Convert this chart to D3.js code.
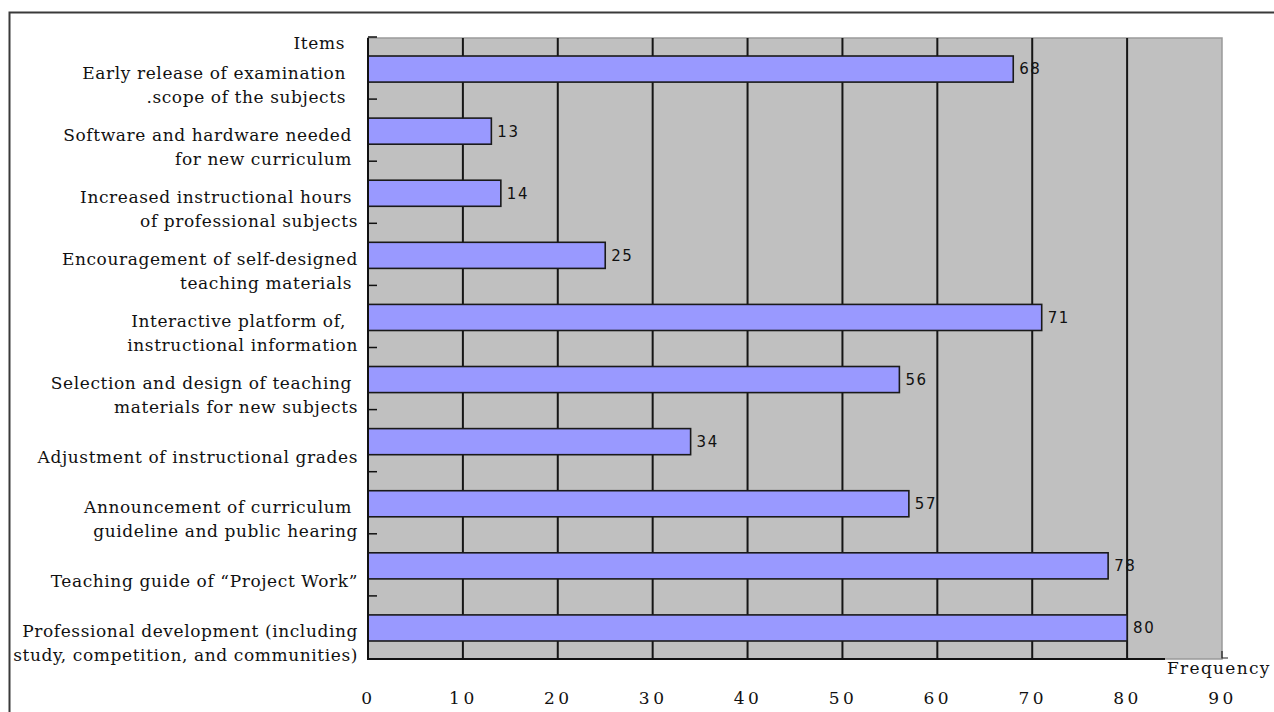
<!DOCTYPE html>
<html>
<head>
<meta charset="utf-8">
<script src="https://cdn.jsdelivr.net/npm/d3@7"></script>
<style>
  body { margin: 0; background: #fff; }
  svg { display: block; }
  .cat { font-family: "DejaVu Serif", serif; font-size: 17px; letter-spacing: 0.6px; fill: #111; white-space: pre; }
  .val { font-family: "DejaVu Sans", sans-serif; font-size: 15px; letter-spacing: 1.5px; fill: #111; }
  .tick text { font-family: "DejaVu Serif", serif; font-size: 17px; letter-spacing: 3.5px; fill: #111; }
</style>
</head>
<body>
<svg id="chart" width="1274" height="712"></svg>
<script>
// Survey items (top to bottom); line breaks mark where each label wraps
const categories = [
  "Early release of examination  \n.scope of the subjects  ",
  "Software and hardware needed \nfor new curriculum ",
  "Increased instructional hours \nof professional subjects",
  "Encouragement of self-designed\nteaching materials ",
  "Interactive platform of,  \ninstructional information",
  "Selection and design of teaching \nmaterials for new subjects",
  "Adjustment of instructional grades",
  "Announcement of curriculum \nguideline and public hearing",
  "Teaching guide of \u201cProject Work\u201d",
  "Professional development (including\nstudy, competition, and communities)"
];
const frequencies = [68, 13, 14, 25, 71, 56, 34, 57, 78, 80];
const xTicks = [0, 10, 20, 30, 40, 50, 60, 70, 80, 90];
const axisTitleY = "Items";
const axisTitleX = "Frequency";

const svg = d3.select("#chart");
const plot = { left: 368, top: 38, right: 1222, bottom: 659 };

const x = d3.scaleLinear().domain([0, 90]).range([plot.left, plot.right]);
const y = d3.scaleBand().domain(categories).range([plot.top, plot.bottom])
  .paddingInner(0.58).paddingOuter(0.29);

// Outer frame (open at right and bottom)
svg.append("path")
  .attr("d", `M9.5,712 V12.5 H1274`)
  .attr("fill", "none").attr("stroke", "#3a3a3a").attr("stroke-width", 2);

// Plot background
svg.append("rect")
  .attr("x", x(0)).attr("y", plot.top)
  .attr("width", x(90) - x(0)).attr("height", plot.bottom - plot.top)
  .attr("fill", "#c0c0c0").attr("stroke", "#9a9a9a").attr("stroke-width", 1.5);

// Vertical gridlines
svg.append("g").selectAll("line")
  .data(xTicks.filter(d => d > 0 && d < 90))
  .join("line")
  .attr("x1", d => x(d)).attr("x2", d => x(d))
  .attr("y1", plot.top).attr("y2", plot.bottom)
  .attr("stroke", "#151515").attr("stroke-width", 2);

// Bars
svg.append("g").selectAll("rect")
  .data(categories.map((c, i) => ({ c, v: frequencies[i] })))
  .join("rect")
  .attr("x", x(0))
  .attr("y", d => y(d.c))
  .attr("width", d => x(d.v) - x(0))
  .attr("height", y.bandwidth())
  .attr("fill", "#9999ff")
  .attr("stroke", "#1a1a1a").attr("stroke-width", 1.6);

// Value labels
svg.append("g").selectAll("text")
  .data(categories.map((c, i) => ({ c, v: frequencies[i] })))
  .join("text")
  .attr("class", "val")
  .attr("x", d => x(d.v) + 6)
  .attr("y", d => y(d.c) + y.bandwidth() / 2)
  .attr("dy", "0.36em")
  .text(d => d.v);

// Left axis line and inward ticks at category boundaries
const step = y.step();
const boundaries = d3.range(categories.length + 1).map(i => plot.top + i * step);
svg.append("line")
  .attr("x1", x(0)).attr("x2", x(0))
  .attr("y1", plot.top).attr("y2", plot.bottom)
  .attr("stroke", "#111").attr("stroke-width", 2);
svg.append("g").selectAll("line")
  .data(boundaries.slice(0, -1))
  .join("line")
  .attr("x1", x(0)).attr("x2", x(0) + 9)
  .attr("y1", d => d - 1).attr("y2", d => d - 1)
  .attr("stroke", "#111").attr("stroke-width", 1.5);

// Bottom axis line running up to the axis title
const freqX = 1167;
svg.append("line")
  .attr("x1", x(0) - 1).attr("x2", freqX - 2)
  .attr("y1", plot.bottom).attr("y2", plot.bottom)
  .attr("stroke", "#111").attr("stroke-width", 2);

// Corner mark at the right end of the plot area
svg.append("path")
  .attr("d", `M${x(90)},${plot.bottom - 8} V${plot.bottom - 1} H${x(90) + 6}`)
  .attr("fill", "none").attr("stroke", "#222").attr("stroke-width", 1.2);

// Bottom tick labels
const xAxis = d3.axisBottom(x).tickValues(xTicks).tickSize(0).tickPadding(0);
svg.append("g")
  .attr("transform", `translate(0, ${plot.bottom + 33})`)
  .call(xAxis)
  .call(g => g.select(".domain").remove());

// Category labels, wrapped lines right-aligned beside the axis
const lineH = 24;
const catG = svg.append("g");
categories.forEach(c => {
  const lines = c.split("\n");
  const mid = y(c) + y.bandwidth() / 2 + 15.5;
  const first = mid - (lines.length - 1) * lineH / 2;
  lines.forEach((ln, j) => {
    catG.append("text")
      .attr("class", "cat")
      .attr("x", 358)
      .attr("y", first + j * lineH)
      .attr("dy", "0.35em")
      .attr("text-anchor", "end")
      .text(ln);
  });
});

// Axis titles
svg.append("text").attr("class", "cat")
  .attr("x", 345).attr("y", 43).attr("dy", "0.35em")
  .attr("text-anchor", "end").text(axisTitleY);
svg.append("text").attr("class", "cat")
  .attr("x", freqX).attr("y", 668).attr("dy", "0.35em")
  .style("letter-spacing", "1.3px")
  .text(axisTitleX);
</script>
</body>
</html>
